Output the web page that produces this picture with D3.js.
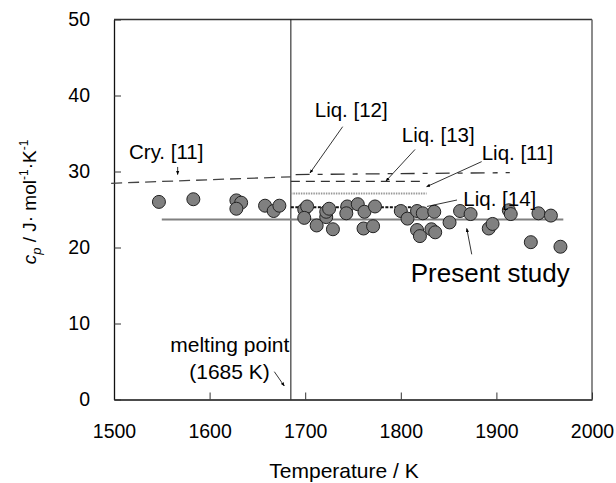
<!DOCTYPE html>
<html>
<head>
<meta charset="utf-8">
<script src="https://cdn.jsdelivr.net/npm/d3@7"></script>
<style>
  body { margin: 0; background: #fff; }
  svg text { font-family: "Liberation Sans", Arial, sans-serif; fill: #000; }
</style>
</head>
<body>
<svg id="chart" width="616" height="483"></svg>
<script>
// measured points (present study)
const tempK = [1547, 1583, 1628, 1633, 1628, 1658, 1667, 1673, 1699, 1702, 1699, 1712, 1722, 1722, 1725, 1729,
  1744, 1743, 1755, 1762, 1761, 1771, 1773, 1800, 1807, 1817, 1820, 1817, 1823, 1835, 1832, 1836, 1851,
  1862, 1873, 1892, 1896, 1913, 1915, 1944, 1957, 1936, 1967];
const cpValues = [26.0, 26.35, 26.2, 25.9, 25.1, 25.5, 24.8, 25.5, 25.0, 25.4, 23.9, 22.9, 24.0, 24.7, 25.1, 22.4,
  25.4, 24.5, 25.7, 24.7, 22.5, 22.8, 25.4, 24.8, 23.8, 22.3, 21.5, 24.8, 24.5, 24.7, 22.4, 22.0, 23.3,
  24.8, 24.4, 22.5, 23.1, 24.9, 24.4, 24.5, 24.2, 20.7, 20.1];

// literature / fitted lines
const refNames = ["Cry. [11]", "Liq. [12]", "Liq. [13]", "Liq. [11]", "Liq. [14]", "Present study"];
const refT = [[1497, 1685], [1690, 1914], [1685, 1820], [1685, 1827], [1685, 1822], [1550, 1970]];
const refCp = [[28.45, 29.3], [29.6, 29.85], [28.7, 28.7], [27.1, 27.1], [25.3, 25.3], [23.7, 23.7]];

// label anchors and leader lines, in data units
const labelT = [1515.7, 1710, 1801, 1884.6, 1865.4, 1810.4];
const labelCp = [31.6, 37.2, 33.9, 31.5, 25.5, 15.4];
const leaderFrom = [[1566.6, 30.6], [1739.2, 35.9], [1814.9, 32.9], [1884.6, 31.3], [1858.8, 26.25], [1874.2, 19.1]];
const leaderTo = [[1566.6, 29.6], [1705, 29.8], [1784.5, 28.75], [1827, 28.0], [1827.4, 25.4], [1869, 22.5]];

const meltingT = 1685;
const xTicks = [1500, 1600, 1700, 1800, 1900, 2000];
const yTicks = [0, 10, 20, 30, 40, 50];

let svg = d3.select("#chart");
let x = d3.scaleLinear().domain([1500, 2000]).range([114, 592]);
let y = d3.scaleLinear().domain([0, 50]).range([399.5, 19.5]);

svg.append("defs").append("marker")
  .attr("id", "arr").attr("viewBox", "0 0 10 10").attr("refX", 9).attr("refY", 5)
  .attr("markerWidth", 5).attr("markerHeight", 5).attr("orient", "auto")
  .append("path").attr("d", "M0,1 L10,5 L0,9 Z").attr("fill", "#000");

// frame (top / right)
svg.append("line").attr("x1", x(1500)).attr("x2", x(2000)).attr("y1", y(50)).attr("y2", y(50))
  .attr("stroke", "#333").attr("stroke-width", 1.3);
svg.append("line").attr("x1", x(2000)).attr("x2", x(2000)).attr("y1", y(50)).attr("y2", y(0))
  .attr("stroke", "#666").attr("stroke-width", 1.5);

let xAxis = svg.append("g").attr("transform", `translate(0,${y(0)})`)
  .call(d3.axisBottom(x).tickValues(xTicks).tickSizeInner(-7).tickSizeOuter(0).tickPadding(25).tickFormat(d3.format("d")));
let yAxis = svg.append("g").attr("transform", `translate(${x(1500)},0)`)
  .call(d3.axisLeft(y).tickValues(yTicks).tickSizeInner(-7).tickSizeOuter(0).tickPadding(24));
[xAxis, yAxis].forEach(g => {
  g.select(".domain").attr("stroke", "#111").attr("stroke-width", 1.3);
  g.selectAll(".tick line").attr("stroke", "#333");
  g.selectAll("text").style("font-size", "19.5px").attr("fill", "#000");
});

// melting point
svg.append("line").attr("x1", x(meltingT)).attr("x2", x(meltingT)).attr("y1", y(0)).attr("y2", y(50))
  .attr("stroke", "#111").attr("stroke-width", 1);

const refStyle = [
  { stroke: "#444", width: 1.3, dash: "11,6" },
  { stroke: "#333", width: 1.3, dash: "14,8,5,8" },
  { stroke: "#333", width: 1.3, dash: "9,6" },
  { stroke: "#999", width: 2, dash: "1.5,1" },
  { stroke: "#111", width: 2, dash: "3,1.5" },
  { stroke: "#808080", width: 2, dash: null }
];
refNames.forEach((n, i) => {
  svg.append("line")
    .attr("x1", x(refT[i][0])).attr("x2", x(refT[i][1]))
    .attr("y1", y(refCp[i][0])).attr("y2", y(refCp[i][1]))
    .attr("stroke", refStyle[i].stroke).attr("stroke-width", refStyle[i].width)
    .attr("stroke-dasharray", refStyle[i].dash);
});

svg.append("g").selectAll("circle")
  .data(tempK.map((t, i) => [t, cpValues[i]]))
  .join("circle")
  .attr("cx", d => x(d[0])).attr("cy", d => y(d[1])).attr("r", 6.5)
  .attr("fill", "#808080").attr("stroke", "#222").attr("stroke-width", 1);

// labels + leaders
refNames.forEach((n, i) => {
  svg.append("text").attr("x", x(labelT[i])).attr("y", y(labelCp[i]))
    .style("font-size", i === 5 ? "26px" : "20.5px").text(n);
  svg.append("line")
    .attr("x1", x(leaderFrom[i][0])).attr("y1", y(leaderFrom[i][1]))
    .attr("x2", x(leaderTo[i][0])).attr("y2", y(leaderTo[i][1]))
    .attr("stroke", "#000").attr("stroke-width", 0.8)
    .attr("marker-end", i === 4 ? null : "url(#arr)");
});

svg.append("text").attr("x", x(1683.4)).attr("y", y(6.3)).attr("text-anchor", "end")
  .style("font-size", "21px").text("melting point");
svg.append("text").attr("x", x(1663)).attr("y", y(2.66)).attr("text-anchor", "end")
  .style("font-size", "21px").text("(1685 K)");
svg.append("line").attr("x1", x(1667.7)).attr("y1", y(3.66)).attr("x2", x(1678.1)).attr("y2", y(1.78))
  .attr("stroke", "#000").attr("stroke-width", 0.8).attr("marker-end", "url(#arr)");

// axis titles
svg.append("text").attr("x", 344).attr("y", 478).attr("text-anchor", "middle")
  .style("font-size", "21px").text("Temperature / K");

let yl = svg.append("text").attr("transform", "translate(36,202) rotate(-90)")
  .attr("text-anchor", "middle").style("font-size", "19px");
yl.append("tspan").style("font-style", "italic").text("c");
yl.append("tspan").style("font-style", "italic").style("font-size", "13px").attr("dy", 5).text("p");
yl.append("tspan").attr("dy", -5).text(" / J\u00b7 mol");
yl.append("tspan").style("font-size", "12px").attr("dy", -8).text("-1");
yl.append("tspan").attr("dy", 8).text("\u00b7K");
yl.append("tspan").style("font-size", "12px").attr("dy", -8).text("-1");
</script>
</body>
</html>
